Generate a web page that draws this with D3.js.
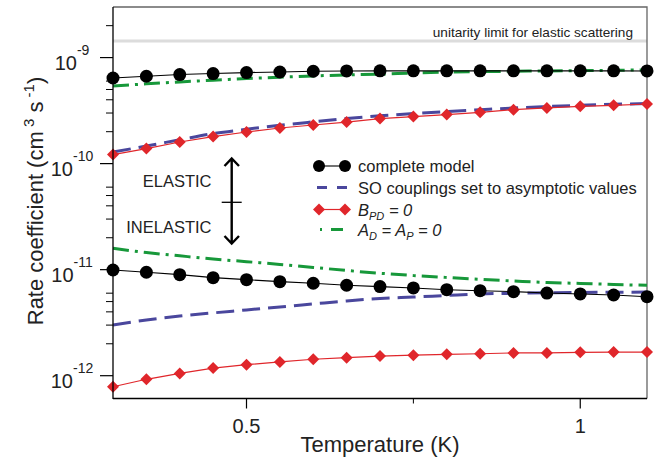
<!DOCTYPE html>
<html>
<head>
<meta charset="utf-8">
<script src="https://cdn.jsdelivr.net/npm/d3@7"></script>
<style>
  body { margin: 0; background: #fff; }
  text { font-family: "Liberation Sans", Arial, Helvetica, sans-serif; fill: #222; }
</style>
</head>
<body>
<svg width="668" height="464"></svg>
<script>
// temperatures (K)
var temps = [0.3, 0.35, 0.4, 0.45, 0.5, 0.55, 0.6, 0.65, 0.7, 0.75, 0.8, 0.85, 0.9, 0.95, 1.0, 1.05, 1.1];

// elastic rate coefficients (cm^3 s^-1)
var elComplete = [6.42e-10, 6.67e-10, 6.92e-10, 7.07e-10, 7.22e-10, 7.31e-10, 7.43e-10, 7.48e-10, 7.5e-10, 7.5e-10, 7.5e-10, 7.5e-10, 7.5e-10, 7.5e-10, 7.5e-10, 7.5e-10, 7.48e-10];
var elSO = [1.285e-10, 1.465e-10, 1.678e-10, 1.919e-10, 2.108e-10, 2.298e-10, 2.477e-10, 2.66e-10, 2.826e-10, 2.964e-10, 3.097e-10, 3.222e-10, 3.348e-10, 3.452e-10, 3.549e-10, 3.626e-10, 3.681e-10];
var elBPD = [1.216e-10, 1.386e-10, 1.6e-10, 1.799e-10, 1.987e-10, 2.167e-10, 2.312e-10, 2.466e-10, 2.66e-10, 2.776e-10, 2.9e-10, 3.047e-10, 3.229e-10, 3.348e-10, 3.473e-10, 3.549e-10, 3.648e-10];
var elA0 = [5.4e-10, 5.65e-10, 5.89e-10, 6.12e-10, 6.34e-10, 6.53e-10, 6.71e-10, 6.86e-10, 6.99e-10, 7.16e-10, 7.31e-10, 7.37e-10, 7.43e-10, 7.49e-10, 7.54e-10, 7.59e-10, 7.64e-10];

// inelastic rate coefficients (cm^3 s^-1)
var inComplete = [9.93e-12, 9.45e-12, 8.97e-12, 8.41e-12, 8.05e-12, 7.71e-12, 7.44e-12, 7.13e-12, 6.92e-12, 6.72e-12, 6.47e-12, 6.33e-12, 6.2e-12, 6.02e-12, 5.9e-12, 5.77e-12, 5.56e-12];
var inSO = [3.01e-12, 3.35e-12, 3.66e-12, 3.91e-12, 4.17e-12, 4.45e-12, 4.75e-12, 5.07e-12, 5.35e-12, 5.52e-12, 5.71e-12, 5.9e-12, 5.99e-12, 6.05e-12, 6.09e-12, 6.12e-12, 6.14e-12];
var inBPD = [7.87e-13, 9.25e-13, 1.05e-12, 1.18e-12, 1.27e-12, 1.35e-12, 1.43e-12, 1.48e-12, 1.53e-12, 1.56e-12, 1.59e-12, 1.61e-12, 1.64e-12, 1.64e-12, 1.66e-12, 1.67e-12, 1.67e-12];
var inA0 = [1.59e-11, 1.45e-11, 1.35e-11, 1.26e-11, 1.19e-11, 1.12e-11, 1.05e-11, 9.82e-12, 9.25e-12, 8.81e-12, 8.44e-12, 8.09e-12, 7.82e-12, 7.57e-12, 7.41e-12, 7.25e-12, 7.12e-12];

var unitarity = 1.43e-9;

var xTicks = [0.5, 1];
var xMinor = [0.75];
var yExps = [-9, -10, -11, -12];
var yMinorMult = [2, 3, 4, 5, 6];

var svg = d3.select("svg");
var pLeft = 113, pRight = 647, pTop = 7, pBottom = 398.5;

var x = d3.scaleLinear().domain([0.3, 1.1]).range([pLeft, pRight]);
var y = d3.scaleLog().domain([6.095e-13, 2.999e-9]).range([pBottom, pTop]);

var red = "#e0262b", blue = "#4a479d", green = "#17983a";

function pairs(vals) {
  return temps.map(function(t, i) { return [t, vals[i]]; });
}

var line = d3.line()
    .x(function(d) { return x(d[0]); })
    .y(function(d) { return y(d[1]); });
var smooth = d3.line()
    .curve(d3.curveMonotoneX)
    .x(function(d) { return x(d[0]); })
    .y(function(d) { return y(d[1]); });

// unitarity limit
svg.append("line")
    .attr("x1", pLeft).attr("x2", pRight)
    .attr("y1", y(unitarity)).attr("y2", y(unitarity))
    .attr("stroke", "#dcdcdc").attr("stroke-width", 3);
svg.append("text")
    .attr("x", 633).attr("y", y(unitarity) - 4.5)
    .attr("text-anchor", "end")
    .style("font-size", "13.6px")
    .text("unitarity limit for elastic scattering");

// frame (mirror sides)
svg.append("path")
    .attr("d", "M" + pLeft + "," + pTop + "H" + pRight + "V" + pBottom)
    .attr("fill", "none").attr("stroke", "#666").attr("stroke-width", 1.3);

// curves without markers
[[elSO, blue, "18,8"], [inSO, blue, "18,8"], [elA0, green, "16,6,3,6"], [inA0, green, "16,6,3,6"]].forEach(function(s) {
  svg.append("path")
      .attr("d", smooth(pairs(s[0])))
      .attr("fill", "none")
      .attr("stroke", s[1])
      .attr("stroke-width", 3)
      .attr("stroke-dasharray", s[2]);
});

// B_PD = 0 with diamonds
[elBPD, inBPD].forEach(function(vals) {
  svg.append("path").attr("d", line(pairs(vals)))
      .attr("fill", "none").attr("stroke", red).attr("stroke-width", 1.2);
  svg.append("g").selectAll("path")
      .data(pairs(vals))
      .enter().append("path")
      .attr("transform", function(d) { return "translate(" + x(d[0]) + "," + y(d[1]) + ")"; })
      .attr("d", "M0,-6L6,0L0,6L-6,0Z")
      .attr("fill", red);
});

// complete model with circles
[elComplete, inComplete].forEach(function(vals) {
  svg.append("path").attr("d", line(pairs(vals)))
      .attr("fill", "none").attr("stroke", "#000").attr("stroke-width", 1.1);
  svg.append("g").selectAll("circle")
      .data(pairs(vals))
      .enter().append("circle")
      .attr("cx", function(d) { return x(d[0]); })
      .attr("cy", function(d) { return y(d[1]); })
      .attr("r", 6.5)
      .attr("fill", "#000");
});

// y axis
svg.append("line")
    .attr("x1", pLeft).attr("x2", pLeft).attr("y1", pTop).attr("y2", pBottom + 0.5)
    .attr("stroke", "#000").attr("stroke-width", 1.3);
yExps.forEach(function(e) {
  var v = Math.pow(10, e);
  svg.append("line")
      .attr("x1", pLeft - 13).attr("x2", pLeft).attr("y1", y(v)).attr("y2", y(v))
      .attr("stroke", "#000").attr("stroke-width", 1.2);
  var t = svg.append("text")
      .attr("x", 72).attr("y", y(v) + 12)
      .attr("text-anchor", "middle")
      .style("font-size", "20px");
  t.append("tspan").text("10");
  t.append("tspan").attr("dy", -14.5).style("font-size", "14px").text("-" + (-e));
});
var minors = [];
[-9, -10, -11, -12, -13].forEach(function(e) {
  yMinorMult.forEach(function(m) {
    var v = m * Math.pow(10, e);
    if (v >= y.domain()[0] && v <= y.domain()[1]) minors.push(v);
  });
});
svg.append("g").selectAll("line")
    .data(minors)
    .enter().append("line")
    .attr("x1", pLeft - 7).attr("x2", pLeft)
    .attr("y1", function(d) { return y(d); })
    .attr("y2", function(d) { return y(d); })
    .attr("stroke", "#000").attr("stroke-width", 1);

svg.append("text")
    .attr("transform", "translate(43,201) rotate(-90)")
    .attr("text-anchor", "middle")
    .style("font-size", "22px")
    .call(function(t) {
      t.append("tspan").text("Rate coefficient (cm");
      t.append("tspan").attr("dy", -9).style("font-size", "15px").text(" 3");
      t.append("tspan").attr("dy", 9).text(" s");
      t.append("tspan").attr("dy", -9).style("font-size", "15px").text(" -1");
      t.append("tspan").attr("dy", 9).text(")");
    });

// x axis
svg.append("line")
    .attr("x1", pLeft).attr("x2", pRight).attr("y1", pBottom).attr("y2", pBottom)
    .attr("stroke", "#000").attr("stroke-width", 1.3);
xTicks.forEach(function(t) {
  svg.append("line")
      .attr("x1", x(t)).attr("x2", x(t)).attr("y1", pBottom).attr("y2", pBottom + 10)
      .attr("stroke", "#000").attr("stroke-width", 1.2);
  svg.append("text")
      .attr("x", x(t)).attr("y", 433)
      .attr("text-anchor", "middle")
      .style("font-size", "20px")
      .text(d3.format("~g")(t));
});
xMinor.forEach(function(t) {
  svg.append("line")
      .attr("x1", x(t)).attr("x2", x(t)).attr("y1", pBottom).attr("y2", pBottom + 5)
      .attr("stroke", "#000").attr("stroke-width", 1);
});
svg.append("text")
    .attr("x", (pLeft + pRight) / 2).attr("y", 452)
    .attr("text-anchor", "middle")
    .style("font-size", "22px")
    .text("Temperature (K)");

// elastic / inelastic annotation
svg.append("text").attr("x", 211.5).attr("y", 186.7).attr("text-anchor", "end")
    .style("font-size", "16.5px").text("ELASTIC");
svg.append("text").attr("x", 211.5).attr("y", 233.3).attr("text-anchor", "end")
    .style("font-size", "16.5px").text("INELASTIC");
svg.append("path")
    .attr("d", "M231.7,159V243 M224.5,166L231.7,158.5L239,166 M224.5,236L231.7,243.5L239,236")
    .attr("fill", "none").attr("stroke", "#000").attr("stroke-width", 2.4);
svg.append("line")
    .attr("x1", 221.7).attr("x2", 241.7).attr("y1", 202.3).attr("y2", 202.3)
    .attr("stroke", "#000").attr("stroke-width", 1.3);

// legend
var lg = svg.append("g");
var lx0 = 317, lx1 = 346, ltx = 358;
var rows = [166, 187.5, 209.5, 229.5];

lg.append("line").attr("x1", lx0).attr("x2", lx1).attr("y1", rows[0]).attr("y2", rows[0])
    .attr("stroke", "#000").attr("stroke-width", 1.1);
[lx0 + 2, lx1 - 1].forEach(function(cx) {
  lg.append("circle").attr("cx", cx).attr("cy", rows[0]).attr("r", 6).attr("fill", "#000");
});
lg.append("line").attr("x1", lx0).attr("x2", lx1 + 2).attr("y1", rows[1]).attr("y2", rows[1])
    .attr("stroke", blue).attr("stroke-width", 3).attr("stroke-dasharray", "10,10");
lg.append("line").attr("x1", lx0).attr("x2", lx1).attr("y1", rows[2]).attr("y2", rows[2])
    .attr("stroke", red).attr("stroke-width", 1.2);
[lx0 + 2, lx1 - 1].forEach(function(cx) {
  lg.append("path").attr("transform", "translate(" + cx + "," + rows[2] + ")")
      .attr("d", "M0,-6L6,0L0,6L-6,0Z").attr("fill", red);
});
lg.append("line").attr("x1", lx0 + 3).attr("x2", lx1 - 3).attr("y1", rows[3]).attr("y2", rows[3])
    .attr("stroke", green).attr("stroke-width", 3).attr("stroke-dasharray", "2,9,12,20");

var fs = "16.5px";
lg.append("text").attr("x", ltx).attr("y", rows[0] + 6).style("font-size", fs).text("complete model");
lg.append("text").attr("x", ltx).attr("y", rows[1] + 6).style("font-size", fs).text("SO couplings set to asymptotic values");
lg.append("text").attr("x", ltx).attr("y", rows[2] + 6).style("font-size", fs).style("font-style", "italic")
    .call(function(t) {
      t.append("tspan").text("B");
      t.append("tspan").attr("dy", 4).style("font-size", "11px").text("PD");
      t.append("tspan").attr("dy", -4).text(" = 0");
    });
lg.append("text").attr("x", ltx).attr("y", rows[3] + 6).style("font-size", fs).style("font-style", "italic")
    .call(function(t) {
      t.append("tspan").text("A");
      t.append("tspan").attr("dy", 4).style("font-size", "11px").text("D");
      t.append("tspan").attr("dy", -4).text(" = A");
      t.append("tspan").attr("dy", 4).style("font-size", "11px").text("P");
      t.append("tspan").attr("dy", -4).text(" = 0");
    });
</script>
</body>
</html>
